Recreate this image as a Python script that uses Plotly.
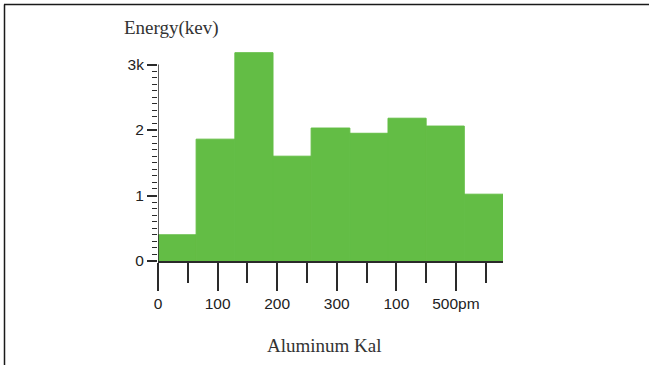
import numpy as np
import plotly.graph_objects as go

# Histogram bins (pm) and energy counts (thousands)
bin_edges = [0, 64, 129, 193, 257, 322, 386, 450, 514, 579]
energy_k = [0.40, 1.86, 3.18, 1.60, 2.03, 1.95, 2.18, 2.06, 1.02]

x_tick_vals = [0, 100, 200, 300, 400, 500]
x_tick_text = ["0", "100", "200", "300", "100", "500pm"]
y_tick_vals = [0, 1, 2, 3]
y_tick_text = ["0", "1", "2", "3k"]

lefts = bin_edges[:-1]
widths = list(np.diff(bin_edges))

BAR_GREEN = "#63bd45"
INK = "#2a2a2a"
SANS = "Liberation Sans, Arial, sans-serif"
SERIF = "Liberation Serif, DejaVu Serif, serif"

fig = go.Figure()
fig.add_trace(go.Bar(
    x=lefts,
    y=energy_k,
    width=widths,
    offset=0,
    marker=dict(color=BAR_GREEN, line=dict(width=1, color=BAR_GREEN)),
    hoverinfo="skip",
))

x_minor = [v + 50 for v in x_tick_vals]
y_minor = [round(v, 1) for v in np.arange(0.1, 3.0, 0.1) if abs(v - round(v)) > 1e-6]

fig.update_layout(
    width=649,
    height=365,
    margin=dict(l=158, r=146, t=47, b=104),
    paper_bgcolor="white",
    plot_bgcolor="white",
    showlegend=False,
    xaxis=dict(
        range=[0, 579],
        showgrid=False,
        zeroline=False,
        showline=True,
        linecolor=INK,
        linewidth=1.5,
        ticks="outside",
        ticklen=28,
        tickwidth=1.5,
        tickcolor=INK,
        tickmode="array",
        tickvals=x_tick_vals,
        ticktext=x_tick_text,
        tickfont=dict(family=SANS, size=15.5, color="#222"),
        minor=dict(ticks="outside", ticklen=20, tickwidth=1.5, tickcolor=INK,
                   tickmode="array", tickvals=x_minor),
        fixedrange=True,
    ),
    yaxis=dict(
        range=[0, 214 / 65.5],
        showgrid=False,
        zeroline=False,
        showline=False,
        ticks="outside",
        ticklen=10,
        tickwidth=1.5,
        tickcolor=INK,
        tickmode="array",
        tickvals=y_tick_vals,
        ticktext=y_tick_text,
        tickfont=dict(family=SANS, size=15.5, color="#222"),
        minor=dict(ticks="outside", ticklen=5, tickwidth=1, tickcolor=INK,
                   tickmode="array", tickvals=y_minor),
        fixedrange=True,
    ),
    shapes=[
        # vertical axis line, running from 0 up to the 3k tick
        dict(type="line", xref="x", yref="y", x0=0, x1=0, y0=0, y1=3,
             line=dict(color=INK, width=1.5)),
        # page frame: top and left edges
        dict(type="line", xref="paper", yref="paper",
             x0=(4 - 158) / 345, x1=(649 - 158) / 345,
             y0=1 + (47 - 4.5) / 214, y1=1 + (47 - 4.5) / 214,
             line=dict(color="#1a1a1a", width=1.5)),
        dict(type="line", xref="paper", yref="paper",
             x0=(4.5 - 158) / 345, x1=(4.5 - 158) / 345,
             y0=1 + (47 - 4.5) / 214, y1=-104 / 214,
             line=dict(color="#1a1a1a", width=1.5)),
    ],
    annotations=[
        dict(text="Energy(kev)", xref="paper", yref="paper",
             x=(171 - 158) / 345, y=1 + (47 - 28) / 214,
             xanchor="center", yanchor="middle", showarrow=False,
             font=dict(family=SERIF, size=19, color="#333")),
        dict(text="Aluminum Kal", xref="paper", yref="paper",
             x=(324 - 158) / 345, y=-(345 - 261) / 214,
             xanchor="center", yanchor="middle", showarrow=False,
             font=dict(family=SERIF, size=19, color="#333")),
    ],
)

fig.write_html("out.html", config={"displayModeBar": False})
